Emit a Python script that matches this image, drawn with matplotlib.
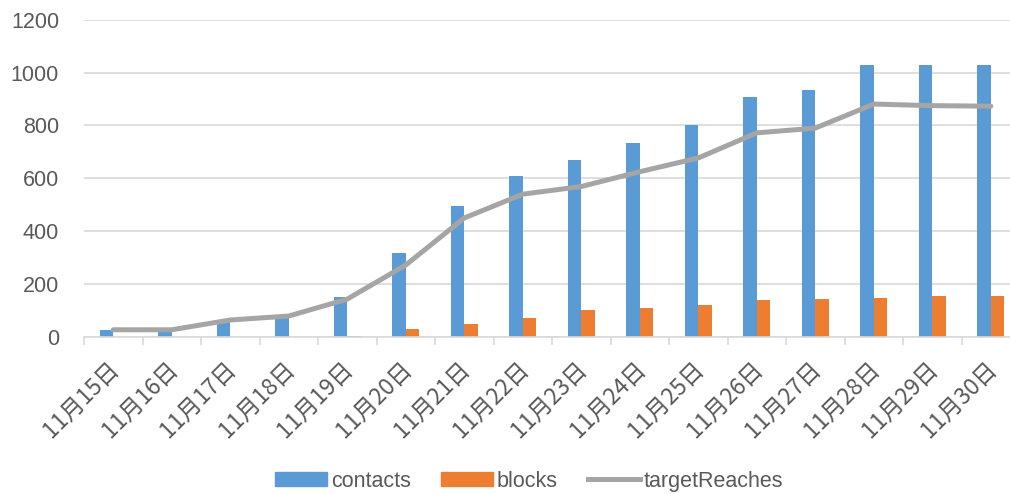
import numpy as np
import matplotlib.pyplot as plt
import matplotlib.transforms as mtransforms
from matplotlib.lines import Line2D
from matplotlib.patches import Patch

plt.rcParams['font.family'] = ['Noto Sans CJK SC', 'DejaVu Sans']

# data
dates = ['11月15日', '11月16日', '11月17日', '11月18日', '11月19日', '11月20日',
         '11月21日', '11月22日', '11月23日', '11月24日', '11月25日', '11月26日',
         '11月27日', '11月28日', '11月29日', '11月30日']
contacts = [26, 22, 62, 75, 152, 319, 497, 609, 670, 734, 802, 909, 934, 1027, 1027, 1027]
blocks = [0, 0, 0, 0, 5, 29, 50, 72, 100, 110, 121, 140, 144, 148, 153, 155]
target_reaches = [27, 27, 64, 79, 143, 272, 450, 540, 569, 625, 677, 772, 790, 881, 875, 873]

blue = '#5B9BD5'
orange = '#ED7D31'
gray = '#A5A5A5'
txt = '#595959'

fig = plt.figure(figsize=(10.10, 4.94), dpi=100)
ax = fig.add_axes([0.0832, 0.318, 0.9267, 0.642])

x = np.arange(len(dates))
w = 0.23
ax.bar(x - w / 2, contacts, width=w, color=blue, zorder=2)
ax.bar(x + w / 2, blocks, width=w, color=orange, zorder=2)
ax.plot(x, target_reaches, color=gray, linewidth=3.6, zorder=3,
        solid_capstyle='round', solid_joinstyle='round')

ax.set_xlim(-0.5, len(dates) - 0.5)
ax.set_ylim(0, 1200)
ax.set_yticks(range(0, 1201, 200))
ax.yaxis.grid(True, color='#D9D9D9', linewidth=1.2, zorder=0)
ax.set_axisbelow(True)

for s in ['top', 'right', 'left']:
    ax.spines[s].set_visible(False)
ax.spines['bottom'].set_color('#D9D9D9')
ax.spines['bottom'].set_linewidth(1.2)

# category labels at centers, small ticks at boundaries
ax.set_xticks(x)
ax.set_xticklabels(dates, rotation=45, ha='right', rotation_mode='anchor',
                   fontsize=16.5, color=txt)
ax.tick_params(axis='x', length=0, pad=15)
shift = mtransforms.ScaledTranslation(-6 / 100, 0, fig.dpi_scale_trans)
for lab in ax.get_xticklabels():
    lab.set_transform(lab.get_transform() + shift)
ax.set_xticks(np.arange(-0.5, len(dates)), minor=True)
ax.tick_params(axis='x', which='minor', length=6, color='#D9D9D9', width=1.2)
ax.tick_params(axis='y', length=0, pad=18)
for lab in ax.get_yticklabels():
    lab.set_fontsize(15.5)
    lab.set_color(txt)
    lab.set_family(['Liberation Sans', 'DejaVu Sans'])

handles = [Patch(color=blue, label='contacts'),
           Patch(color=orange, label='blocks'),
           Line2D([0], [0], color=gray, linewidth=3.6, label='targetReaches')]
leg = fig.legend(handles=handles, loc='center', bbox_to_anchor=(0.524, 0.026),
                 ncol=3, frameon=False, handlelength=2.4, handleheight=0.6,
                 columnspacing=1.4, handletextpad=0.2,
                 prop={'family': ['Liberation Sans', 'DejaVu Sans'], 'size': 15.5})
for t in leg.get_texts():
    t.set_color(txt)

fig.savefig('out.png', dpi=100)
